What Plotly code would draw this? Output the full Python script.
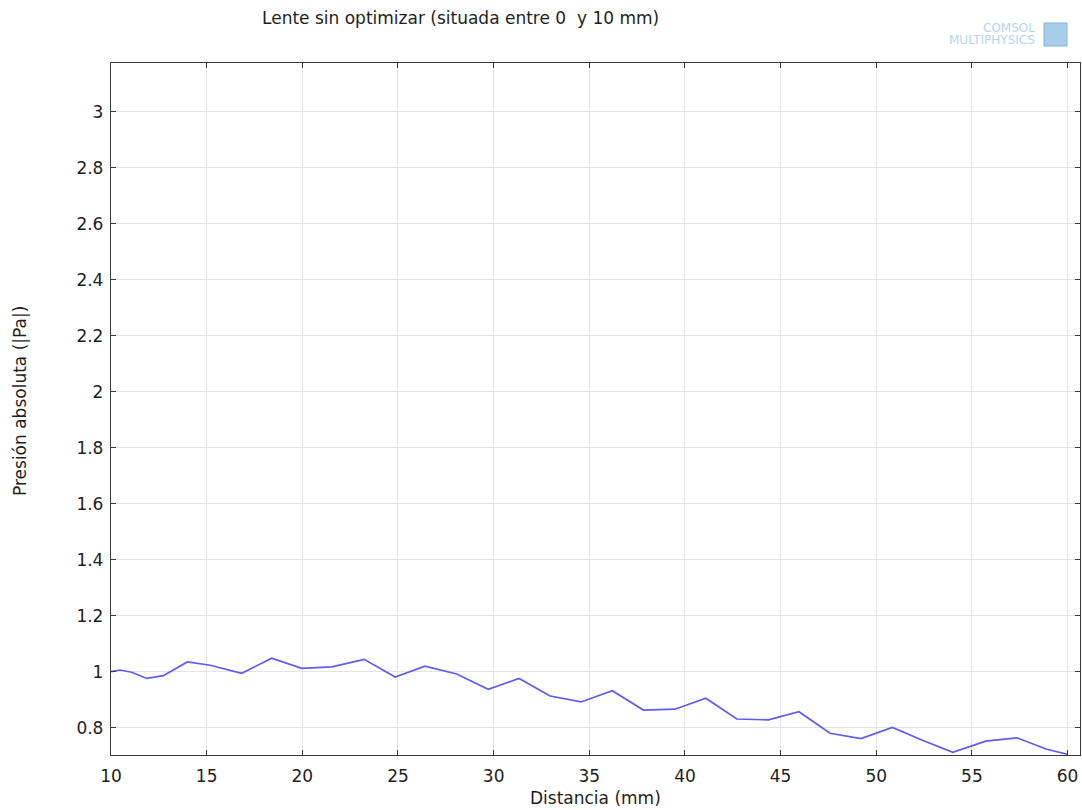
import plotly.graph_objects as go

distancia_mm = [10.0, 10.47, 11.08, 11.87, 12.73, 13.99, 15.18, 16.83, 18.40, 19.97,
                21.54, 23.23, 24.85, 26.41, 28.07, 29.72, 31.33, 32.95, 34.57, 36.20,
                37.83, 39.48, 41.09, 42.71, 44.36, 45.96, 47.58, 49.20, 50.84, 52.38,
                54.00, 55.72, 57.35, 58.91, 60.0]
presion_pa = [1.000, 1.006, 0.998, 0.976, 0.986, 1.035, 1.023, 0.994, 1.048, 1.012,
              1.017, 1.044, 0.981, 1.020, 0.992, 0.937, 0.976, 0.913, 0.892, 0.932,
              0.863, 0.866, 0.905, 0.831, 0.828, 0.857, 0.780, 0.761, 0.801, 0.756,
              0.712, 0.752, 0.764, 0.723, 0.705]

x_ticks = [10, 15, 20, 25, 30, 35, 40, 45, 50, 55, 60]
y_ticks = [0.8, 1.0, 1.2, 1.4, 1.6, 1.8, 2.0, 2.2, 2.4, 2.6, 2.8, 3.0]
y_tick_labels = ["0.8", "1", "1.2", "1.4", "1.6", "1.8", "2", "2.2", "2.4", "2.6", "2.8", "3"]

title_text = "Lente sin optimizar (situada entre 0  y 10 mm)"
x_title = "Distancia (mm)"
y_title = "Presión absoluta (|Pa|)"

FONT = "DejaVu Sans"
TXT = "#1e1e1e"
FS = 17

W, H = 1082, 810
L, R, T, B = 111, 2, 63, 55
PW, PH = W - L - R, H - T - B


def px_x(p):
    return (p - L) / PW


def px_y(p):
    return (H - B - p) / PH


fig = go.Figure()
fig.add_trace(go.Scatter(
    x=distancia_mm, y=presion_pa, mode="lines",
    line=dict(color="rgb(92,92,255)", width=1.7),
    showlegend=False,
))

axis_common = dict(
    showline=True, linecolor="#3a3a3a", linewidth=1.3, mirror="ticks",
    ticks="inside", ticklen=5, tickcolor="#3a3a3a",
    showgrid=True, gridcolor="#e4e4e4", gridwidth=1, zeroline=False,
    tickfont=dict(family=FONT, size=FS, color=TXT),
)

fig.update_xaxes(range=[10, 60.65], tickvals=x_ticks, ticktext=[str(v) for v in x_ticks],
                 ticklabelstandoff=5, **axis_common)
fig.update_yaxes(range=[0.7025, 3.174], tickvals=y_ticks, ticktext=y_tick_labels,
                 ticklabelstandoff=3, **axis_common)

fig.update_layout(
    width=W, height=H,
    margin=dict(l=L, r=R, t=T, b=B),
    paper_bgcolor="white", plot_bgcolor="white",
    font=dict(family=FONT, size=FS, color=TXT),
    annotations=[
        dict(text=title_text, xref="paper", yref="paper", x=px_x(460), y=px_y(18),
             xanchor="center", yanchor="middle", showarrow=False,
             font=dict(family=FONT, size=FS, color=TXT)),
        dict(text=x_title, xref="paper", yref="paper", x=px_x(595), y=px_y(798),
             xanchor="center", yanchor="middle", showarrow=False,
             font=dict(family=FONT, size=FS, color=TXT)),
        dict(text=y_title, xref="paper", yref="paper", x=px_x(20), y=px_y(401),
             xanchor="center", yanchor="middle", showarrow=False, textangle=-90,
             font=dict(family=FONT, size=FS, color=TXT)),
        dict(text="COMSOL", xref="paper", yref="paper", x=px_x(1037), y=px_y(28),
             xanchor="right", yanchor="middle", showarrow=False,
             font=dict(family=FONT, size=12, color="#b5d5ee")),
        dict(text="MULTIPHYSICS", xref="paper", yref="paper", x=px_x(1037), y=px_y(40),
             xanchor="right", yanchor="middle", showarrow=False,
             font=dict(family=FONT, size=12, color="#b5d5ee")),
    ],
)

# COMSOL cube icon, approximated as a light blue square
fig.add_shape(type="rect", xref="paper", yref="paper",
              x0=px_x(1044), x1=px_x(1067), y0=px_y(46), y1=px_y(23),
              fillcolor="#a8cdea", line=dict(color="#7fb2dc", width=1))

fig.write_html("out.html", config={"displayModeBar": False},
               post_script="document.body.style.margin='0';")
